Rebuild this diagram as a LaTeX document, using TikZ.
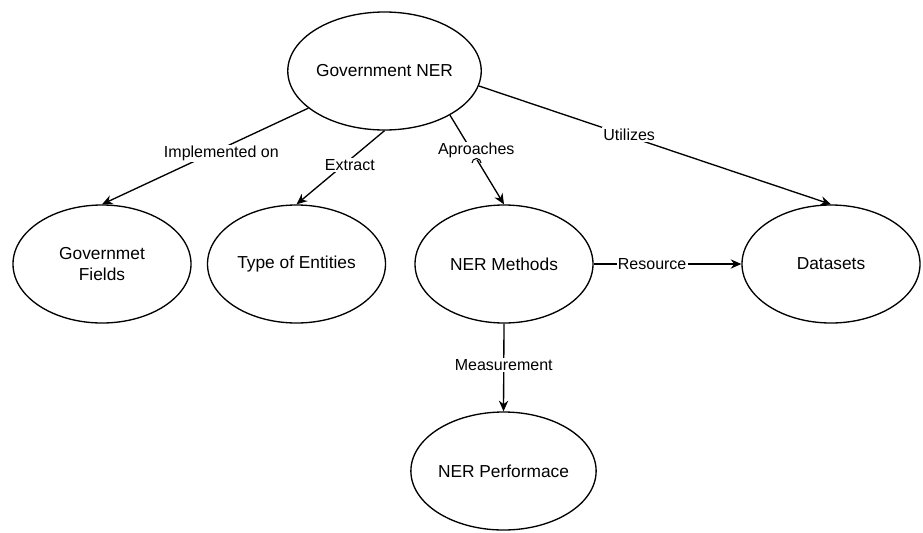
\documentclass[tikz,border=0pt]{standalone}
\usepackage{fontspec}
\setmainfont{Liberation Sans}
\usetikzlibrary{shapes.geometric,arrows.meta}
\tikzset{
  ent/.style={draw=black, line width=1pt, ellipse, minimum width=133.5pt, minimum height=88.5pt, inner sep=0pt, align=center, font=\fontsize{13}{15.5}\selectfont},
  conn/.style={draw=black, line width=1pt, -{Stealth[length=8pt,width=7pt]}},
  lbl/.style={fill=white, inner sep=1pt, font=\fontsize{12}{14}\selectfont}
}
\begin{document}
\begin{tikzpicture}[x=0.75pt,y=-0.75pt]
\useasboundingbox (0,0) rectangle (923,532);
\node[ent] (gov) at (384.5,71) {Government NER};
\node[ent] (fields) at (102,264) {Governmet\\Fields};
\node[ent] (types) at (296.5,264) {Type of Entities};
\node[ent] (methods) at (504,264) {NER Methods};
\node[ent] (data) at (831,264) {Datasets};
\node[ent] (perf) at (503.5,471) {NER Performace};

\draw[conn] (gov.206) -- node[lbl, pos=0.47, xshift=7.5pt] {Implemented on} (fields.north);
\draw[conn] (gov.south) -- node[lbl, pos=0.47, xshift=5pt] {Extract} (types.north);
\draw[conn] (gov.326) -- node[lbl, pos=0.40, xshift=3.5pt] {Aproaches} (methods.north);
\draw[conn] (gov.351) -- node[lbl, pos=0.427, yshift=1.5pt] {Utilizes} (data.north);
\draw[conn] (methods.east) -- node[lbl, pos=0.396] {Resource} (data.west);
\draw[conn] (methods.south) -- node[lbl, pos=0.47] {Measurement} (perf.north);
\coordinate (jump) at (472,163);
\draw[line width=0.8pt] (jump) arc[start angle=180, end angle=360, radius=4.5];
\end{tikzpicture}
\end{document}
